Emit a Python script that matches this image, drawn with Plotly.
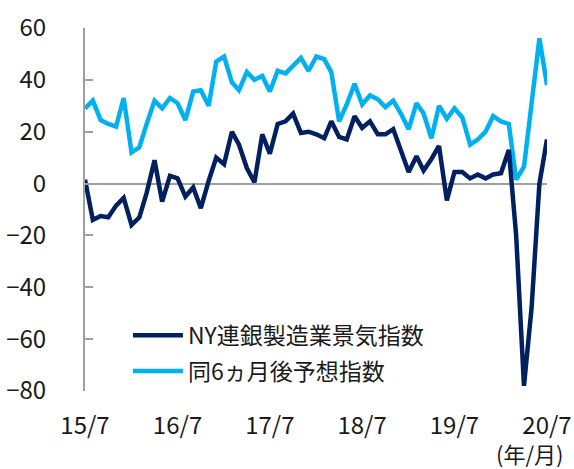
import pandas as pd
import plotly.graph_objects as go

# Monthly data, 2015/7 - 2020/7
months = pd.date_range("2015-07-01", "2020-07-01", freq="MS")

ny_current = [1.5, -14, -12.5, -13, -8.5, -5.5, -16, -13, -3.5, 9, -7, 3,
              2, -5, -1.5, -9.5, 1, 10, 7.5, 20, 15, 6, 0.5, 19,
              11.5, 23, 24, 27, 19.5, 20, 19, 17.5, 24, 18, 17, 26,
              21.5, 24, 19, 19, 21, 13, 4.5, 10.5, 5, 9.5, 14.5, -6.5,
              4.5, 4.5, 2, 3.5, 2, 3.5, 4, 13, -20, -78, -48, 0,
              17]

ny_future = [29, 32, 24.5, 23, 22, 33, 12, 14, 23, 32, 29, 33,
             31, 24.5, 35.5, 36, 30, 47, 49, 39, 36, 43, 40, 41.5,
             35.5, 43.5, 42.5, 45.5, 48.5, 43.5, 49, 48, 43, 24, 30.5, 38.5,
             30.5, 34, 32.5, 29.5, 32, 27, 21, 31, 27, 17.5, 30, 25,
             29, 25.5, 15, 17, 20, 26, 24, 23, 1.5, 6.5, 30, 56,
             38]

tick_dates = ["2015-07-01", "2016-07-01", "2017-07-01", "2018-07-01", "2019-07-01", "2020-07-01"]
tick_labels = ["15/7", "16/7", "17/7", "18/7", "19/7", "20/7"]
y_ticks = [-80, -60, -40, -20, 0, 20, 40, 60]

name_current = "NY連銀製造業景気指数"
name_future = "同6ヵ月後予想指数"
unit_label = "(年/月)"

FONT = "Noto Sans CJK JP, Noto Sans, sans-serif"
DARK = "#002060"
LIGHT = "#00B0F0"
AXIS = "#A0A0A0"
TEXT = "#1a1a1a"

fig = go.Figure()
fig.add_trace(go.Scatter(x=months, y=ny_future, mode="lines", name=name_future,
                         legendgroup="b", legendrank=2,
                         line=dict(color=LIGHT, width=4.5)))
fig.add_trace(go.Scatter(x=months, y=ny_current, mode="lines", name=name_current,
                         legendgroup="a", legendrank=1,
                         line=dict(color=DARK, width=4.5)))

fig.update_layout(
    width=574, height=469, autosize=False,
    margin=dict(l=85, r=27, t=28, b=78),
    paper_bgcolor="white", plot_bgcolor="white",
    font=dict(family=FONT, size=24, color=TEXT),
    showlegend=True,
    legend=dict(x=0.093, y=0.213, xanchor="left", yanchor="top",
                bgcolor="rgba(0,0,0,0)", traceorder="grouped",
                font=dict(family=FONT, size=23, color=TEXT),
                itemwidth=50, tracegroupgap=3),
    xaxis=dict(type="date", range=["2015-07-01", "2020-07-01"],
               tickvals=tick_dates, ticktext=tick_labels, automargin=False,
               showgrid=False, showline=False, zeroline=False, ticks="",
               ticklabelstandoff=18,
               tickfont=dict(family=FONT, size=24, color=TEXT)),
    yaxis=dict(range=[-80, 60], tickvals=y_ticks, automargin=False,
               showgrid=False, showline=True, linecolor=AXIS, linewidth=2,
               ticks="inside", ticklen=8, tickwidth=2, tickcolor=AXIS,
               zeroline=True, zerolinecolor=AXIS, zerolinewidth=2,
               ticklabelstandoff=32,
               tickfont=dict(family=FONT, size=24, color=TEXT)),
)

fig.add_annotation(text=unit_label, xref="paper", yref="paper",
                   x=(530 - 85) / 462, y=-(453 - 391) / 363,
                   xanchor="center", yanchor="middle", showarrow=False,
                   font=dict(family=FONT, size=22, color=TEXT))

fig.write_html("out.html", config={"displayModeBar": False},
               post_script="document.body.style.margin='0';document.body.style.overflow='hidden';")
